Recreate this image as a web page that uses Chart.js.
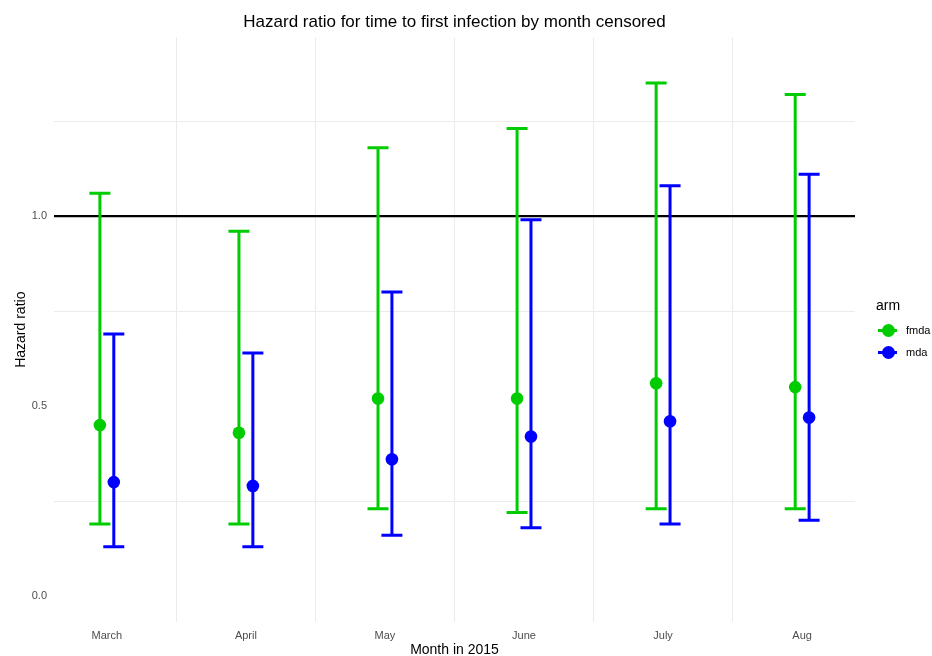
<!DOCTYPE html>
<html>
<head>
<meta charset="utf-8">
<script src="https://cdn.jsdelivr.net/npm/chart.js@4/dist/chart.umd.min.js"></script>
<style>
  html, body { margin: 0; padding: 0; background: #fff; }
  #wrap { position: relative; width: 932px; height: 656px; }
  #legend { position: absolute; left: 876px; top: 296px; font-family: "Liberation Sans", Arial, sans-serif; color: #000; }
  #legend .ttl { font-size: 14px; height: 18px; line-height: 18px; margin-bottom: 5px; }
  #legend .item { position: relative; height: 22px; line-height: 22px; font-size: 11px; padding-left: 30px; color: #000; white-space: nowrap; }
  #legend .ln { position: absolute; left: 2px; top: 9.5px; width: 19px; height: 3px; }
  #legend .dot { position: absolute; left: 5.5px; top: 4.5px; width: 13px; height: 13px; border-radius: 50%; }
</style>
</head>
<body>
<div id="wrap">
  <canvas id="c" width="932" height="656"></canvas>
  <div id="legend"></div>
</div>
<script>
// ---- data ----
const months = ['March', 'April', 'May', 'June', 'July', 'Aug'];
const arms = ['fmda', 'mda'];
const fmdaHR    = [0.45, 0.43, 0.52, 0.52, 0.56, 0.55];
const fmdaLower = [0.19, 0.19, 0.23, 0.22, 0.23, 0.23];
const fmdaUpper = [1.06, 0.96, 1.18, 1.23, 1.35, 1.32];
const mdaHR     = [0.30, 0.29, 0.36, 0.42, 0.46, 0.47];
const mdaLower  = [0.13, 0.13, 0.16, 0.18, 0.19, 0.20];
const mdaUpper  = [0.69, 0.64, 0.80, 0.99, 1.08, 1.11];
const yTickValues = [0, 0.5, 1.0];
const yGridValues = [0.25, 0.75, 1.25];
const referenceLine = 1.0;

// ---- style ----
const colors = { fmda: '#00CC00', mda: '#0000FF' };
const dodge = 0.05;
const FONT = '"Liberation Sans", Arial, Helvetica, sans-serif';

const series = [
  { name: 'fmda', hr: fmdaHR, lo: fmdaLower, hi: fmdaUpper, off: -dodge },
  { name: 'mda',  hr: mdaHR,  lo: mdaLower,  hi: mdaUpper,  off:  dodge }
];

const datasets = series.map(s => ({
  label: s.name,
  data: s.hr.map((v, i) => ({ x: i + s.off, y: v, lo: s.lo[i], hi: s.hi[i] })),
  backgroundColor: colors[s.name],
  borderColor: colors[s.name],
  borderWidth: 0,
  pointRadius: 6.3,
  pointHoverRadius: 6.3
}));

const errorBars = {
  id: 'errorBars',
  beforeDatasetsDraw(chart) {
    const { ctx, chartArea, scales: { x, y } } = chart;
    ctx.save();
    ctx.strokeStyle = '#000';
    ctx.lineWidth = 2.2;
    ctx.beginPath();
    const ry = y.getPixelForValue(referenceLine);
    ctx.moveTo(chartArea.left, ry);
    ctx.lineTo(chartArea.right, ry);
    ctx.stroke();
    chart.data.datasets.forEach(ds => {
      ctx.strokeStyle = ds.borderColor;
      ctx.lineWidth = 3;
      ctx.lineCap = 'butt';
      ds.data.forEach(p => {
        const px = x.getPixelForValue(p.x);
        const yl = y.getPixelForValue(p.lo);
        const yh = y.getPixelForValue(p.hi);
        const hw = 10.5;
        ctx.beginPath();
        ctx.moveTo(px, yl); ctx.lineTo(px, yh);
        ctx.moveTo(px - hw, yl); ctx.lineTo(px + hw, yl);
        ctx.moveTo(px - hw, yh); ctx.lineTo(px + hw, yh);
        ctx.stroke();
      });
    });
    ctx.restore();
  }
};

// center the chart title over the plotting panel
const centerTitle = {
  id: 'centerTitle',
  afterLayout(chart) {
    const tb = chart.titleBlock;
    if (tb) { tb.left = chart.chartArea.left; tb.right = chart.chartArea.right; }
  }
};

const xTicks = [];
months.forEach((m, i) => { xTicks.push(i); if (i < months.length - 1) xTicks.push(i + 0.5); });

new Chart(document.getElementById('c'), {
  type: 'scatter',
  data: { datasets },
  plugins: [errorBars, centerTitle],
  options: {
    responsive: false,
    animation: false,
    layout: { padding: { left: 0, right: 77, top: 0, bottom: 0 } },
    plugins: {
      legend: { display: false },
      tooltip: { enabled: false },
      title: {
        display: true,
        text: 'Hazard ratio for time to first infection by month censored',
        color: '#000',
        font: { family: FONT, size: 17, weight: 'normal' },
        padding: { top: 12, bottom: 5 }
      }
    },
    scales: {
      x: {
        type: 'linear',
        min: -0.38,
        max: months.length - 1 + 0.38,
        afterBuildTicks: sc => { sc.ticks = xTicks.map(v => ({ value: v })); },
        afterFit: sc => { sc.height = 34; },
        border: { display: false },
        grid: {
          drawTicks: false,
          lineWidth: 1,
          color: c => (c.tick && c.tick.value % 1 !== 0) ? '#EBEBEB' : 'rgba(0,0,0,0)'
        },
        ticks: {
          autoSkip: false,
          maxRotation: 0,
          padding: 7,
          color: '#4D4D4D',
          font: { family: FONT, size: 11 },
          callback: v => (v % 1 === 0 ? months[v] : '')
        },
        title: {
          display: true,
          text: 'Month in 2015',
          color: '#000',
          font: { family: FONT, size: 14 },
          padding: { top: 0, bottom: -3 }
        }
      },
      y: {
        min: -0.068,
        max: 1.47,
        afterBuildTicks: sc => {
          sc.ticks = yTickValues.concat(yGridValues).sort((a, b) => a - b).map(v => ({ value: v }));
        },
        afterFit: sc => { sc.width = 54; },
        border: { display: false },
        grid: {
          drawTicks: false,
          lineWidth: 1,
          color: c => (c.tick && yGridValues.includes(c.tick.value)) ? '#EBEBEB' : 'rgba(0,0,0,0)'
        },
        ticks: {
          padding: 7,
          color: '#4D4D4D',
          font: { family: FONT, size: 11 },
          callback: v => (yTickValues.includes(v) ? v.toFixed(1) : '')
        },
        title: {
          display: true,
          text: 'Hazard ratio',
          color: '#000',
          font: { family: FONT, size: 14 },
          padding: { top: 13, bottom: 0 }
        }
      }
    }
  }
});

// legend (HTML)
const lg = document.getElementById('legend');
const t = document.createElement('div'); t.className = 'ttl'; t.textContent = 'arm'; lg.appendChild(t);
arms.forEach(a => {
  const it = document.createElement('div'); it.className = 'item';
  const ln = document.createElement('span'); ln.className = 'ln'; ln.style.background = colors[a];
  const dt = document.createElement('span'); dt.className = 'dot'; dt.style.background = colors[a];
  it.appendChild(ln); it.appendChild(dt);
  it.appendChild(document.createTextNode(a));
  lg.appendChild(it);
});
</script>
</body>
</html>
